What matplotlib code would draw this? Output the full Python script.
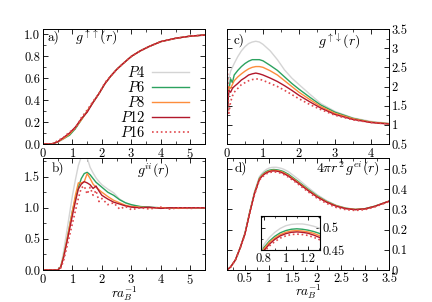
import numpy as np
import matplotlib
matplotlib.use('Agg')
import matplotlib.pyplot as plt
from matplotlib.ticker import MultipleLocator, FuncFormatter, FixedLocator

plt.rcParams['font.family'] = 'serif'
plt.rcParams['font.serif'] = ['cmr10', 'DejaVu Serif']
plt.rcParams['mathtext.fontset'] = 'cm'
plt.rcParams['axes.formatter.use_mathtext'] = True
plt.rcParams['font.size'] = 9

labels = ['$P4$', '$P6$', '$P8$', '$P12$', '$P16$']
colors = ['#d4d4d4', '#2ca25f', '#fd8d3c', '#b2182b', '#e0474c']
styles = ['-', '-', '-', '-', ':']

# a) g_upup(r)
r_a = [0, 0.3, 0.5, 0.7, 0.9, 1.1, 1.3, 1.5, 1.7, 1.9, 2.1, 2.3, 2.5, 2.7, 3.0, 3.3, 3.6, 4.0, 4.5, 5.0, 5.5]
g_uu_P4 = [0, 0.0, 0.015, 0.045, 0.085, 0.15, 0.22, 0.30, 0.38, 0.46, 0.55, 0.62, 0.68, 0.73, 0.80, 0.85, 0.89, 0.935, 0.965, 0.985, 0.995]
g_uu_P6 = [0, 0.0, 0.02, 0.05, 0.08, 0.14, 0.22, 0.30, 0.38, 0.46, 0.55, 0.62, 0.68, 0.73, 0.80, 0.85, 0.89, 0.935, 0.965, 0.985, 0.995]
g_uu_P8 = [0, 0.0, 0.02, 0.05, 0.09, 0.15, 0.22, 0.30, 0.38, 0.46, 0.55, 0.62, 0.68, 0.73, 0.80, 0.85, 0.89, 0.935, 0.965, 0.985, 0.995]
g_uu_P12 = [0, 0.0, 0.02, 0.06, 0.10, 0.155, 0.23, 0.29, 0.38, 0.46, 0.55, 0.62, 0.68, 0.73, 0.80, 0.85, 0.89, 0.935, 0.965, 0.985, 0.995]
g_uu_P16 = [0, 0.0, 0.03, 0.06, 0.11, 0.14, 0.24, 0.31, 0.39, 0.46, 0.56, 0.62, 0.68, 0.73, 0.80, 0.85, 0.89, 0.935, 0.965, 0.985, 0.995]

# c) g_updown(r)
r_c = [0, 0.05, 0.1, 0.15, 0.2, 0.3, 0.4, 0.5, 0.6, 0.7, 0.8, 0.9, 1.0, 1.2, 1.4, 1.6, 1.8, 2.0, 2.3, 2.6, 3.0, 3.5, 4.0, 4.5]
g_ud_P4 = [1.2, 2.2, 2.4, 2.5, 2.6, 2.78, 2.93, 3.04, 3.12, 3.16, 3.18, 3.16, 3.1, 2.93, 2.7, 2.43, 2.22, 2.05, 1.8, 1.56, 1.35, 1.18, 1.09, 1.04]
g_ud_P6 = [1.2, 1.9, 2.2, 2.1, 2.3, 2.42, 2.52, 2.6, 2.66, 2.7, 2.7, 2.7, 2.67, 2.55, 2.42, 2.25, 2.08, 1.93, 1.72, 1.52, 1.33, 1.17, 1.07, 1.03]
g_ud_P8 = [1.5, 2.0, 1.95, 2.05, 2.15, 2.25, 2.33, 2.4, 2.46, 2.5, 2.52, 2.52, 2.5, 2.41, 2.3, 2.15, 2.0, 1.85, 1.66, 1.48, 1.3, 1.16, 1.07, 1.03]
g_ud_P12 = [1.2, 1.9, 1.85, 1.95, 2.0, 2.08, 2.17, 2.23, 2.3, 2.33, 2.35, 2.33, 2.3, 2.22, 2.13, 2.02, 1.9, 1.77, 1.6, 1.44, 1.27, 1.14, 1.06, 1.02]
g_ud_P16 = [2.8, 1.3, 1.6, 1.75, 1.85, 1.95, 2.05, 2.1, 2.15, 2.18, 2.2, 2.19, 2.16, 2.08, 2.0, 1.9, 1.79, 1.68, 1.53, 1.4, 1.25, 1.13, 1.06, 1.02]

# b) g_ii(r)
r_b = [0, 0.5, 0.6, 0.7, 0.8, 0.9, 1.0, 1.1, 1.2, 1.3, 1.4, 1.5, 1.6, 1.7, 1.8, 1.9, 2.0, 2.2, 2.4, 2.6, 2.8, 3.0, 3.3, 3.6, 4.0, 4.3, 4.6, 5.0, 5.5]
g_ii_P4 = [0, 0, 0.05, 0.3, 0.6, 0.9, 1.2, 1.45, 1.68, 1.82, 1.88, 1.8, 1.65, 1.56, 1.48, 1.42, 1.37, 1.3, 1.24, 1.14, 1.08, 1.04, 1.02, 1.0, 1.0, 0.99, 1.0, 1.0, 1.0]
g_ii_P6 = [0, 0, 0.05, 0.22, 0.45, 0.7, 0.95, 1.15, 1.33, 1.47, 1.55, 1.57, 1.53, 1.47, 1.41, 1.37, 1.33, 1.25, 1.2, 1.13, 1.08, 1.05, 1.02, 1.01, 1.0, 1.0, 1.0, 1.0, 1.0]
g_ii_P8 = [0, 0, 0.05, 0.22, 0.45, 0.7, 0.95, 1.2, 1.4, 1.4, 1.42, 1.55, 1.47, 1.38, 1.33, 1.29, 1.25, 1.18, 1.12, 1.08, 1.04, 1.02, 1.01, 1.0, 1.0, 1.0, 0.99, 1.0, 1.0]
g_ii_P12 = [0, 0, 0.04, 0.2, 0.42, 0.65, 0.88, 1.1, 1.3, 1.38, 1.42, 1.4, 1.37, 1.31, 1.35, 1.27, 1.2, 1.14, 1.09, 1.06, 1.03, 1.01, 1.0, 1.01, 0.99, 1.0, 1.0, 1.0, 1.0]
g_ii_P16 = [0, 0, 0.03, 0.15, 0.35, 0.55, 0.75, 0.95, 1.15, 1.32, 1.35, 1.22, 1.33, 1.2, 1.28, 1.1, 1.15, 1.05, 1.08, 0.98, 1.02, 0.97, 1.0, 0.98, 1.01, 0.98, 1.0, 0.99, 1.0]

# d) 4 pi r^2 g_ei(r)
r_d = [0.125, 0.2, 0.3, 0.4, 0.5, 0.6, 0.7, 0.8, 0.85, 0.9, 0.95, 1.0, 1.05, 1.1, 1.15, 1.2, 1.25, 1.3, 1.4, 1.6, 1.8, 2.0, 2.2, 2.4, 2.6, 2.8, 3.0, 3.2, 3.5]
g_ei_P4 = [0, 0.015, 0.05, 0.112, 0.185, 0.292, 0.39, 0.462, 0.478, 0.490, 0.499, 0.505, 0.508, 0.509, 0.509, 0.507, 0.504, 0.500, 0.488, 0.452, 0.412, 0.374, 0.344, 0.321, 0.307, 0.301, 0.304, 0.316, 0.341]
g_ei_P6 = [0, 0.015, 0.05, 0.11, 0.182, 0.288, 0.384, 0.455, 0.470, 0.481, 0.489, 0.494, 0.497, 0.498, 0.497, 0.495, 0.492, 0.488, 0.475, 0.440, 0.403, 0.368, 0.340, 0.319, 0.306, 0.300, 0.304, 0.316, 0.341]
g_ei_P8 = [0, 0.015, 0.05, 0.11, 0.18, 0.286, 0.382, 0.452, 0.467, 0.477, 0.485, 0.490, 0.493, 0.494, 0.493, 0.491, 0.488, 0.483, 0.470, 0.436, 0.399, 0.365, 0.338, 0.318, 0.305, 0.300, 0.303, 0.315, 0.341]
g_ei_P12 = [0, 0.015, 0.05, 0.11, 0.18, 0.285, 0.38, 0.448, 0.463, 0.474, 0.482, 0.487, 0.490, 0.491, 0.490, 0.488, 0.484, 0.479, 0.466, 0.432, 0.396, 0.362, 0.336, 0.316, 0.304, 0.299, 0.303, 0.315, 0.341]
g_ei_P16 = [0, 0.014, 0.048, 0.108, 0.177, 0.28, 0.375, 0.445, 0.459, 0.469, 0.477, 0.482, 0.485, 0.486, 0.485, 0.483, 0.479, 0.474, 0.461, 0.427, 0.390, 0.356, 0.330, 0.310, 0.299, 0.295, 0.299, 0.312, 0.339]

fig = plt.figure(figsize=(4.32, 3.02), dpi=100)
W, H = 432.0, 302.0
def box(x0, y0, x1, y1):
    return [x0 / W, 1 - y1 / H, (x1 - x0) / W, (y1 - y0) / H]

ax_a = fig.add_axes(box(43, 29, 205, 144))
ax_c = fig.add_axes(box(227, 29, 389, 144))
ax_b = fig.add_axes(box(43, 158, 205, 270))
ax_d = fig.add_axes(box(227, 158, 389, 270))
ax_in = fig.add_axes(box(261, 216, 320, 250))

gfmt = FuncFormatter(lambda v, p: '%g' % v)

def style(ax, xmaj, xmin, ymaj, ymin):
    ax.xaxis.set_major_locator(MultipleLocator(xmaj))
    ax.xaxis.set_minor_locator(MultipleLocator(xmin))
    ax.yaxis.set_major_locator(MultipleLocator(ymaj))
    if ymin:
        ax.yaxis.set_minor_locator(MultipleLocator(ymin))
    ax.tick_params(which='both', direction='in', top=True, right=True, labelsize=9, pad=2)
    ax.tick_params(which='major', length=3.5, width=0.6)
    ax.tick_params(which='minor', length=2, width=0.5)
    for s in ax.spines.values():
        s.set_linewidth(0.7)

for ys, ls, c, lab in zip([g_uu_P4, g_uu_P6, g_uu_P8, g_uu_P12, g_uu_P16], styles, colors, labels):
    ax_a.plot(r_a, ys, ls, color=c, lw=1.0 if ls == '-' else 1.2, label=lab)
for ys, ls, c in zip([g_ud_P4, g_ud_P6, g_ud_P8, g_ud_P12, g_ud_P16], styles, colors):
    ax_c.plot(r_c, ys, ls, color=c, lw=1.0 if ls == '-' else 1.2)
for ys, ls, c in zip([g_ii_P4, g_ii_P6, g_ii_P8, g_ii_P12, g_ii_P16], styles, colors):
    ax_b.plot(r_b, ys, ls, color=c, lw=1.0 if ls == '-' else 1.2)
for ys, ls, c in zip([g_ei_P4, g_ei_P6, g_ei_P8, g_ei_P12, g_ei_P16], styles, colors):
    ax_d.plot(r_d, ys, ls, color=c, lw=1.0 if ls == '-' else 1.2)
    ax_in.plot(r_d, ys, ls, color=c, lw=1.0 if ls == '-' else 1.2)

ax_a.set_xlim(0, 5.5)
ax_a.set_ylim(0, 1.05)
style(ax_a, 1, 0.5, 0.2, 0.1)
ax_a.yaxis.set_major_formatter(FuncFormatter(lambda v, p: '%.1f' % v))
ax_a.text(0.03, 0.93, 'a)', transform=ax_a.transAxes, va='center', fontsize=9.5)
ax_a.text(0.2, 0.93, r'$g^{\uparrow\uparrow}(r)$', transform=ax_a.transAxes, va='center', fontsize=10)
ax_a.legend(loc='lower right', bbox_to_anchor=(0.94, -0.02), frameon=False, markerfirst=False,
            fontsize=10.5, handlelength=2.6, handletextpad=0.45, labelspacing=0.0, borderaxespad=0)

ax_c.set_xlim(0, 4.5)
ax_c.set_ylim(0.5, 3.5)
style(ax_c, 1, 0.5, 0.5, 0.25)
ax_c.yaxis.tick_right()
ax_c.tick_params(which='both', left=True)
ax_c.yaxis.set_major_formatter(gfmt)
ax_c.text(0.04, 0.9, 'c)', transform=ax_c.transAxes, va='center', fontsize=9.5)
ax_c.text(0.56, 0.89, r'$g^{\uparrow\downarrow}(r)$', transform=ax_c.transAxes, va='center', fontsize=10)

ax_b.set_xlim(0, 5.5)
ax_b.set_ylim(0, 1.8)
style(ax_b, 1, 0.5, 0.5, 0.25)
ax_b.yaxis.set_major_formatter(FuncFormatter(lambda v, p: '%.1f' % v))
ax_b.text(0.055, 0.91, 'b)', transform=ax_b.transAxes, va='center', fontsize=9.5)
ax_b.text(0.58, 0.89, r'$g^{ii}(r)$', transform=ax_b.transAxes, va='center', fontsize=10)
ax_b.set_xlabel(r'$ra_B^{-1}$', fontsize=9.5, labelpad=-2)

ax_d.set_xlim(0.125, 3.5)
ax_d.set_ylim(0, 0.555)
style(ax_d, 0.5, 0.25, 0.1, None)
ax_d.yaxis.tick_right()
ax_d.tick_params(which='both', left=True)
ax_d.xaxis.set_major_formatter(gfmt)
ax_d.yaxis.set_major_formatter(gfmt)
ax_d.text(0.045, 0.91, 'd)', transform=ax_d.transAxes, va='center', fontsize=9.5)
ax_d.text(0.55, 0.9, r'$4\pi r^2\, g^{ei}(r)$', transform=ax_d.transAxes, va='center', fontsize=10)
ax_d.set_xlabel(r'$ra_B^{-1}$', fontsize=9.5, labelpad=-2)

ax_in.set_xlim(0.775, 1.31)
ax_in.set_ylim(0.45, 0.527)
ax_in.xaxis.set_major_locator(FixedLocator([0.8, 1.0, 1.2]))
ax_in.xaxis.set_minor_locator(MultipleLocator(0.1))
ax_in.yaxis.set_major_locator(FixedLocator([0.45, 0.5]))
ax_in.yaxis.set_minor_locator(MultipleLocator(0.025))
ax_in.tick_params(which='both', direction='in', top=True, right=True, left=True, labelsize=9, pad=2)
ax_in.tick_params(which='major', length=3, width=0.6)
ax_in.tick_params(which='minor', length=1.5, width=0.5)
ax_in.yaxis.tick_right()
ax_in.tick_params(which='both', left=True)
ax_in.xaxis.set_major_formatter(gfmt)
ax_in.yaxis.set_major_formatter(gfmt)
for s in ax_in.spines.values():
    s.set_linewidth(0.8)

fig.savefig('out.png', dpi=100)
